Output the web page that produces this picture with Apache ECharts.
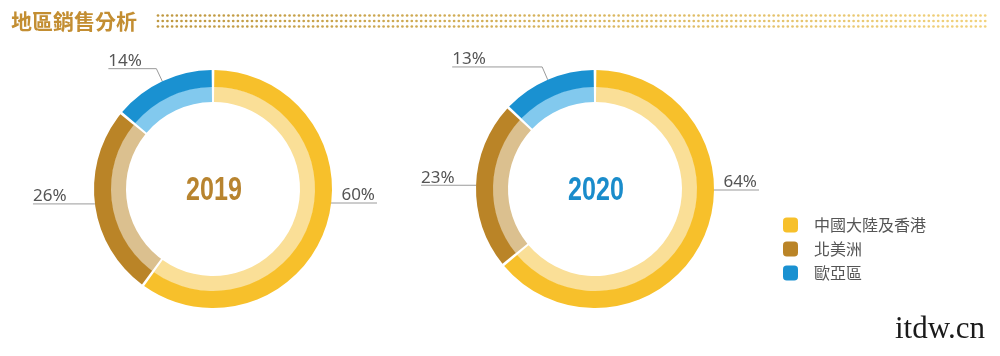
<!DOCTYPE html>
<html><head><meta charset="utf-8">
<script src="https://cdn.jsdelivr.net/npm/echarts@6/dist/echarts.min.js"></script>
<style>html,body{margin:0;padding:0;background:#fff}#c{width:1000px;height:356px}</style>
</head><body><div id="c"></div>
<script>
// ---- data ----
const regions = ['中國大陸及香港', '北美洲', '歐亞區'];
const years = ['2019', '2020'];
const share2019 = [60, 26, 14];
const share2020 = [64, 23, 13];
const titleText = '地區銷售分析';
const watermarkText = 'itdw.cn';

// ---- style / layout ----
const outerColors = ['#F7C02B', '#BA8427', '#1A91D1'];
const innerColors = ['#FADF97', '#DBC08F', '#82C9EE'];
const yearColors = ['#B8842F', '#1A8CCB'];
const centers = [[213, 189], [595, 189]];
const rOuter = [102, 119], rInner = [87, 102.5];
const rightDy = [14, 1];
const leftLen = [62, 55];
const topLen = [48, 90];

function labelLayoutFor(k) {
  return function (p) {
    const pts = p.labelLinePoints;
    if (!pts) return {};
    if (p.dataIndex === 0) {
      const r = p.rect;
      const R = r.height / 2;
      const edge = r.x + r.width;
      const y = r.y + R + rightDy[k];
      const x0 = edge - 5, x1 = edge + 45;
      return { x: x1 - 2, y: y + 1, align: 'right', verticalAlign: 'bottom',
               labelLinePoints: [[x0, y], [x0 + 1, y], [x1, y]] };
    }
    const a = p.dataIndex === 1 ? pts[0] : pts[1];
    const L = p.dataIndex === 1 ? leftLen[k] : topLen[k];
    const end = [a[0] - L, a[1]];
    return { x: end[0], y: end[1] + 1, align: 'left', verticalAlign: 'bottom',
             labelLinePoints: [pts[0], a, end] };
  };
}

const datasets = [share2019, share2020];
const series = [];
datasets.forEach(function (vals, k) {
  series.push({
    type: 'pie', name: years[k] + ' inner', center: centers[k], radius: rInner,
    startAngle: 90, clockwise: true, animation: false, silent: true, padAngle: 1.3,
    emphasis: { disabled: true },
    label: { show: false }, labelLine: { show: false },
    data: vals.map(function (v, i) { return { name: regions[i], value: v, itemStyle: { color: innerColors[i] } }; })
  });
  series.push({
    type: 'pie', name: years[k], center: centers[k], radius: rOuter,
    startAngle: 90, clockwise: true, avoidLabelOverlap: false, animation: false, padAngle: 1.3,
    emphasis: { disabled: true },
    label: { show: true, position: 'outside', formatter: '{c}%', color: '#555',
             fontSize: 17, fontFamily: 'Noto Sans' },
    labelLine: { show: true, length: 14, length2: 10, smooth: false,
                 lineStyle: { color: '#9a9a9a', width: 1 } },
    labelLayout: labelLayoutFor(k),
    data: vals.map(function (v, i) { return { name: regions[i], value: v, itemStyle: { color: outerColors[i] } }; })
  });
});

// decorative dot band next to the title
function mix(c1, c2, t) {
  const a = parseInt(c1.slice(1), 16), b = parseInt(c2.slice(1), 16);
  const r = Math.round(((a >> 16) & 255) * (1 - t) + ((b >> 16) & 255) * t);
  const g = Math.round(((a >> 8) & 255) * (1 - t) + ((b >> 8) & 255) * t);
  const bl = Math.round((a & 255) * (1 - t) + (b & 255) * t);
  return 'rgb(' + r + ',' + g + ',' + bl + ')';
}
const dots = [];
const dotX0 = 158, dotX1 = 988, dotStep = 4.7, dotRows = [15.5, 21, 26.5];
for (let x = dotX0; x <= dotX1; x += dotStep) {
  const col = mix('#BF9840', '#F2D27C', (x - dotX0) / (dotX1 - dotX0));
  dotRows.forEach(function (y) {
    dots.push({ type: 'circle', shape: { cx: x, cy: y, r: 1.35 }, style: { fill: col }, silent: true });
  });
}

const graphic = [
  { type: 'text', x: 11, y: 21, silent: true,
    style: { text: titleText, fill: '#C38E32', font: 'bold 21px "Noto Sans CJK TC"', align: 'left', verticalAlign: 'middle' } },
  { type: 'group', children: dots, silent: true },
  { type: 'text', x: 895, y: 345, silent: true,
    style: { text: watermarkText, fill: '#1a1a1a', font: '31px "Liberation Serif"', align: 'left', verticalAlign: 'bottom' } }
];
years.forEach(function (yr, k) {
  graphic.push({ type: 'text', x: centers[k][0] + 1, y: centers[k][1] + 2, scaleX: 0.76, silent: true,
    style: { text: yr, fill: yearColors[k], font: 'bold 33px "Liberation Sans"', align: 'center', verticalAlign: 'middle' } });
});

const chart = echarts.init(document.getElementById('c'), null, { renderer: 'canvas' });
chart.setOption({
  backgroundColor: '#ffffff',
  animation: false,
  legend: {
    data: regions.map(function (n, i) { return { name: n, itemStyle: { color: outerColors[i] } }; }),
    orient: 'vertical', left: 778, top: 212,
    itemWidth: 15, itemHeight: 15, itemGap: 8, icon: 'roundRect', selectedMode: false,
    textStyle: { color: '#555', fontSize: 16, fontFamily: 'Noto Sans CJK TC', padding: [0, 0, 0, 11] }
  },
  series: series,
  graphic: graphic
});
</script></body></html>
